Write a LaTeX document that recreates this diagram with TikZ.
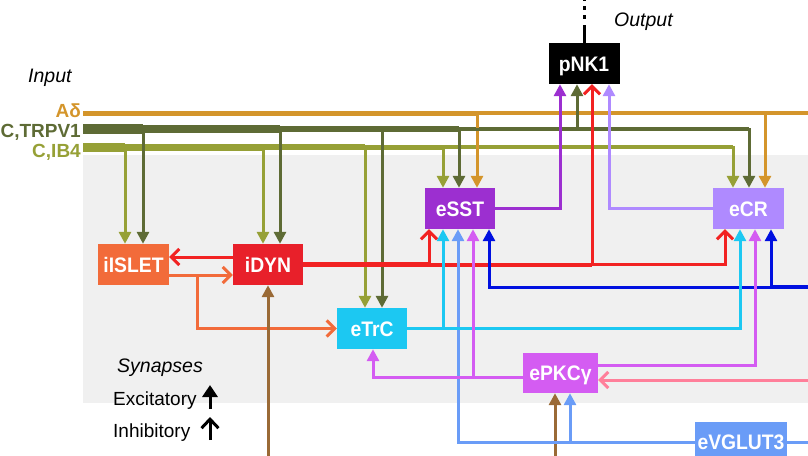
\documentclass[tikz,border=0pt]{standalone}
\usepackage{fontspec}
\setmainfont{Liberation Sans}
\newfontfamily\nodefont[FakeStretch=0.92]{Liberation Sans}
\usetikzlibrary{arrows.meta}
\definecolor{cAd}{HTML}{D4952B}
\definecolor{cTR}{HTML}{5E6B35}
\definecolor{cIB}{HTML}{96A036}
\definecolor{cIslet}{HTML}{F26B3A}
\definecolor{cDyn}{HTML}{E8202A}
\definecolor{cRed}{HTML}{F22222}
\definecolor{cSST}{HTML}{9C2FD0}
\definecolor{cCR}{HTML}{AF8AFF}
\definecolor{cTrC}{HTML}{1CC8F2}
\definecolor{cPKC}{HTML}{D45CF2}
\definecolor{cVG}{HTML}{6A9CF7}
\definecolor{cBlue}{HTML}{0010E0}
\definecolor{cPink}{HTML}{FF7F9A}
\definecolor{cBrown}{HTML}{9A6A36}
\definecolor{cBg}{HTML}{F0F0F0}
\begin{document}
\begin{tikzpicture}[x=1pt,y=-1pt,
  cell/.style={inner sep=0pt, minimum height=41pt, text=white,
    font=\nodefont\bfseries\fontsize{21}{24}\selectfont, text height=15pt, text depth=0pt},
  lab/.style={font=\bfseries\fontsize{19}{22}\selectfont, inner sep=0pt},
  leg/.style={font=\fontsize{19}{22}\selectfont, inner sep=0pt},
  ital/.style={font=\itshape\fontsize{19.5}{22}\selectfont, inner sep=0pt},
  wire/.style={line width=3pt},
  exc/.style={-{Triangle[width=12pt,length=12pt]}},
  inh/.style={-{Straight Barb[width=16pt,length=8pt]}},
]
\useasboundingbox (0,0) rectangle (808,455);
\clip (0,0) rectangle (808,455);
\fill[cBg] (83,155) rectangle (808,403);

% nodes
\node[cell, fill=black, minimum width=71pt] (pnk) at (584,63.5) {pNK1};
\node[cell, fill=cSST, minimum width=70pt] (sst) at (460,208.5) {eSST};
\node[cell, fill=cCR, minimum width=71pt] (cr) at (748.5,208.5) {eCR};
\node[cell, fill=cIslet, minimum width=71pt] (islet) at (133.5,264.5) {iISLET};
\node[cell, fill=cDyn, minimum width=70pt] (dyn) at (268,264.5) {iDYN};
\node[cell, fill=cTrC, minimum width=70pt] (trc) at (372,328.5) {eTrC};
\node[cell, fill=cPKC, minimum width=75pt, minimum height=40pt] (pkc) at (560.5,373) {ePKCγ};
\node[cell, fill=cVG, minimum width=92pt, minimum height=40pt] (vg) at (741,442) {eVGLUT3};

% labels
\node[ital, anchor=base west] (inp) at (28,82) {Input};
\node[ital, anchor=base west] (outp) at (614,26) {Output};
\node[lab, text=cAd, anchor=base east] (ad) at (81,117) {Aδ};
\node[lab, text=cTR, anchor=base east] (tr) at (81,137) {C,TRPV1};
\node[lab, text=cIB, anchor=base east] (ib) at (81,157) {C,IB4};
\node[ital, anchor=base west] (syn) at (117,372) {Synapses};
\node[leg, anchor=base west] (excl) at (113,405) {Excitatory};
\node[leg, anchor=base west] (inhl) at (113,437) {Inhibitory};

% anchor coordinates
\coordinate (adS) at (83,113);
\coordinate (trS) at (83,129);
\coordinate (ibS) at (83,147);
\coordinate (adE) at (808,113);
\coordinate (sn1) at ([xshift=-17pt]sst.north);
\coordinate (sn2) at ([xshift=-1pt]sst.north);
\coordinate (sn3) at ([xshift=17pt]sst.north);
\coordinate (cn1) at ([xshift=-15.5pt]cr.north);
\coordinate (cn2) at ([xshift=0.5pt]cr.north);
\coordinate (cn3) at ([xshift=16.5pt]cr.north);
\coordinate (s1) at ([xshift=-31pt]sst.south);
\coordinate (s2) at ([xshift=-17pt]sst.south);
\coordinate (s3) at ([xshift=-2pt]sst.south);
\coordinate (s4) at ([xshift=13pt]sst.south);
\coordinate (s5) at ([xshift=29pt]sst.south);
\coordinate (cs1) at ([xshift=-23.5pt]cr.south);
\coordinate (cs2) at ([xshift=-8.5pt]cr.south);
\coordinate (cs3) at ([xshift=6.5pt]cr.south);
\coordinate (cs4) at ([xshift=22.5pt]cr.south);
\coordinate (p1) at ([xshift=-24pt]pnk.south);
\coordinate (p2) at ([xshift=-7pt]pnk.south);
\coordinate (p3) at ([xshift=8pt]pnk.south);
\coordinate (p4) at ([xshift=25pt]pnk.south);
\coordinate (in1) at ([xshift=-8.5pt]islet.north);
\coordinate (in2) at ([xshift=9.5pt]islet.north);
\coordinate (dn1) at ([xshift=-5pt]dyn.north);
\coordinate (dn2) at ([xshift=12pt]dyn.north);
\coordinate (tn1) at ([xshift=-7pt]trc.north);
\coordinate (tn2) at ([xshift=10pt]trc.north);
\coordinate (ts1) at ([xshift=1pt]trc.south);
\coordinate (ks1) at ([xshift=-5.5pt]pkc.south);
\coordinate (ks2) at ([xshift=9.5pt]pkc.south);

% C,IB4
\foreach \t in {in1,dn1,tn1,sn1,cn1} {\draw[cIB, wire, exc] (ibS) -| (\t);}
\draw[cIB, line width=9pt] (ibS) -- (in1 |- ibS);
\draw[cIB, line width=7pt] (in1 |- ibS) -- (dn1 |- ibS);
\draw[cIB, line width=6pt] (dn1 |- ibS) -- (tn1 |- ibS);
\draw[cIB, line width=5pt] (tn1 |- ibS) -- (sn1 |- ibS);
\draw[cIB, line width=3.5pt] (sn1 |- ibS) -- (cn1 |- ibS);

% C,TRPV1
\foreach \t in {in2,dn2,tn2,sn2,cn2} {\draw[cTR, wire, exc] (trS) -| (\t);}
\draw[cTR, line width=10pt] (trS) -- (in2 |- trS);
\draw[cTR, line width=7.5pt] (in2 |- trS) -- (dn2 |- trS);
\draw[cTR, line width=6.5pt] (dn2 |- trS) -- (tn2 |- trS);
\draw[cTR, line width=5.5pt] (tn2 |- trS) -- (sn2 |- trS);
\draw[cTR, line width=4.5pt] (sn2 |- trS) -- (p2 |- trS);
\draw[cTR, line width=3.5pt] (p2 |- trS) -- (cn2 |- trS);

% Adelta
\foreach \t in {sn3,cn3} {\draw[cAd, wire, exc] (adS) -| (\t);}
\draw[cAd, line width=5pt] (adS) -- (sn3 |- adS);
\draw[cAd, line width=4.5pt] (sn3 |- adS) -- (cn3 |- adS);
\draw[cAd, line width=4pt] (cn3 |- adS) -- (adE);

% TRPV1 to pNK1
\draw[cTR, wire, exc] (trS) -| (p2);

% output
\coordinate (outMid) at ([yshift=18pt]pnk.north);
\coordinate (outDash) at ([yshift=24pt]pnk.north);
\coordinate (outTop) at ([yshift=52pt]pnk.north);
\draw[line width=3pt] (pnk.north) -- (outMid);
\draw[line width=3pt, dash pattern=on 4pt off 5pt] (outDash) -- (outTop);

% eSST, eCR to pNK1
\draw[cSST, wire, exc] (sst.east) -| (p1);
\draw[cCR, wire, exc] (cr.west) -| (p4);

% iDYN red
\draw[cRed, wire, inh] (dyn.east) -| (s1);
\draw[cRed, wire, inh] (dyn.east) -| (p3);
\draw[cRed, wire, inh] (dyn.east) -| (cs1);
\draw[cRed, line width=5pt] (dyn.east) -- (s1 |- dyn.east);
\draw[cRed, line width=4pt] (s1 |- dyn.east) -- (p3 |- dyn.east);
\draw[cRed, wire, inh] ([yshift=7.5pt]dyn.west) -- ([yshift=7.5pt]islet.east);

% iISLET orange
\draw[cIslet, wire, inh] ([yshift=-10.5pt]islet.east) -- ([yshift=-10.5pt]dyn.west);
\draw[cIslet, wire, inh] ([yshift=-10.5pt]islet.east) -- ++(28,0) |- (trc.west);

% brown
\draw[cBrown, wire, exc] ([yshift=-200pt]dyn.south) -- (dyn.south);
\draw[cBrown, wire, exc] ([yshift=-100pt]ks1) -- (ks1);

% blue
\coordinate (blueR) at (808,287);
\draw[cBlue, wire, exc] (blueR) -| (s5);
\draw[cBlue, wire, exc] (blueR) -| (cs4);
\draw[cBlue, line width=4.5pt] (blueR) -- (cs4 |- blueR);

% eVGLUT3
\coordinate (vgR) at (808,442);
\draw[cVG, wire, exc] (vg.west) -| (s3);
\draw[cVG, wire, exc] (vg.west) -| (ks2);
\draw[cVG, wire] (vg.east) -- (vgR);

% eTrC cyan
\draw[cTrC, wire, exc] (trc.east) -| (s2);
\draw[cTrC, wire, exc] (trc.east) -| (cs2);

% ePKCgamma magenta
\draw[cPKC, wire, exc] ([yshift=-4pt]pkc.west) -| (ts1);
\draw[cPKC, wire, exc] ([yshift=-4pt]pkc.west) -| (s4);
\draw[cPKC, wire, exc] ([yshift=8pt]pkc.east) -| (cs3);

% pink
\coordinate (pinkR) at (808,380);
\draw[cPink, wire, inh] (pinkR) -- (pkc.east |- pinkR);

% legend arrows
\coordinate (ea1) at (210,409);
\coordinate (ea2) at (210,385);
\coordinate (ia1) at (210,440);
\coordinate (ia2) at (210,417);
\draw[line width=3pt, -{Triangle[width=15pt,length=12pt]}] (ea1) -- (ea2);
\draw[line width=3pt, -{Straight Barb[width=17pt,length=9pt]}] (ia1) -- (ia2);
\end{tikzpicture}
\end{document}
